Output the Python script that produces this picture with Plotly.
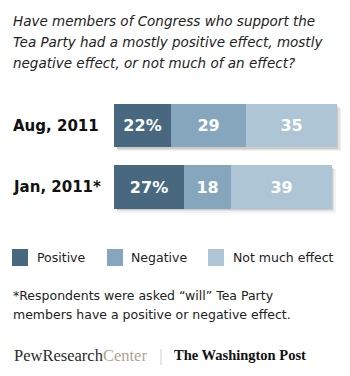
import numpy as np
import plotly.graph_objects as go

# ---------------- data ----------------
periods = ["Aug, 2011", "Jan, 2011*"]
positive = [22, 27]
negative = [29, 18]
not_much = [35, 39]
series_names = ["Positive", "Negative", "Not much effect"]
series_colors = ["#47687f", "#85a6bd", "#aec5d6"]

title_lines = [
    "Have members of Congress who support the",
    "Tea Party had a mostly positive effect, mostly",
    "negative effect, or not much of an effect?",
]
footnote_lines = [
    "*Respondents were asked \u201cwill\u201d Tea Party",
    "members have a positive or negative effect.",
]

# ---------------- layout constants ----------------
W, H = 350, 376
X0 = 114            # left edge of the bars (px)
PX_PER_PCT = 2.59   # horizontal scale
PX_PER_CAT = 61.5   # vertical spacing between bars
CAT0_Y = 125.5      # pixel centre of the first bar
BAR_W = 0.70

xmax = (W - X0) / PX_PER_PCT
y_top = -CAT0_Y / PX_PER_CAT
y_bot = y_top + H / PX_PER_CAT

series = [positive, negative, not_much]
bases = np.vstack([np.zeros(len(periods)), np.cumsum(series, axis=0)[:-1]])
totals = np.sum(series, axis=0)

fig = go.Figure()

# soft drop shadow behind each stacked bar
for dpx, alpha in [(4.0, 0.05), (2.8, 0.07), (1.5, 0.09)]:
    fig.add_bar(
        y=periods, x=totals + dpx / PX_PER_PCT - 1.0, base=1.0,
        orientation="h", width=BAR_W, offset=-BAR_W / 2 + dpx / PX_PER_CAT,
        marker=dict(color=f"rgba(0,0,0,{alpha})", line_width=0),
        hoverinfo="skip", showlegend=False,
    )

for i, (name, vals, col) in enumerate(zip(series_names, series, series_colors)):
    text = [f"{v}%" if i == 0 else str(v) for v in vals]
    fig.add_bar(
        y=periods, x=vals, base=bases[i], orientation="h", width=BAR_W,
        marker=dict(color=col, line_width=0), name=name,
        text=text, textposition="inside", insidetextanchor="middle",
        textfont=dict(family="DejaVu Sans", size=16, color="white", weight="bold"),
        constraintext="none", showlegend=False,
    )

annotations = []
shapes = []

def px(x):
    return x / W

def py(y):
    return 1 - y / H

# category labels (left-aligned, on the category axis positions)
for p in periods:
    annotations.append(dict(
        text=p, x=px(11), y=p, xref="paper", yref="y",
        xanchor="left", yanchor="middle", showarrow=False,
        font=dict(family="DejaVu Sans", size=15, color="#111", weight="bold"),
    ))

# title
for k, line in enumerate(title_lines):
    annotations.append(dict(
        text=line, x=px(11), y=py(21 + 21 * k), xref="paper", yref="paper",
        xanchor="left", yanchor="middle", showarrow=False,
        font=dict(family="DejaVu Sans", size=13.5, color="#222", style="italic"),
    ))

# legend
legend_box_x = [12, 107, 208]
legend_text_x = [35, 129, 231]
legend_y = 257.5
for name, col, bx, tx in zip(series_names, series_colors, legend_box_x, legend_text_x):
    shapes.append(dict(
        type="rect", xref="paper", yref="paper",
        x0=px(bx), x1=px(bx + 16), y0=py(legend_y - 8.5), y1=py(legend_y + 8.5),
        fillcolor=col, line_width=0,
    ))
    annotations.append(dict(
        text=name, x=px(tx), y=py(legend_y), xref="paper", yref="paper",
        xanchor="left", yanchor="middle", showarrow=False,
        font=dict(family="DejaVu Sans", size=12.5, color="#222"),
    ))

# footnote
for k, line in enumerate(footnote_lines):
    annotations.append(dict(
        text=line, x=px(11), y=py(295 + 19.5 * k), xref="paper", yref="paper",
        xanchor="left", yanchor="middle", showarrow=False,
        font=dict(family="DejaVu Sans", size=12.5, color="#222"),
    ))

# logos
annotations.append(dict(
    text="PewResearch<span style='color:#b0a48f'>Center</span>",
    x=px(12), y=py(355), xref="paper", yref="paper",
    xanchor="left", yanchor="middle", showarrow=False,
    font=dict(family="Liberation Serif", size=16.5, color="#2b2b2b"),
))
shapes.append(dict(
    type="line", xref="paper", yref="paper",
    x0=px(161), x1=px(161), y0=py(349), y1=py(365),
    line=dict(color="#d0d0d0", width=1),
))
annotations.append(dict(
    text="The Washington Post",
    x=px(172), y=py(355), xref="paper", yref="paper",
    xanchor="left", yanchor="middle", showarrow=False,
    font=dict(family="Liberation Serif", size=14.5, color="#111", weight="bold"),
))

fig.update_layout(
    width=W, height=H,
    margin=dict(l=0, r=0, t=0, b=0),
    paper_bgcolor="white", plot_bgcolor="white",
    barmode="overlay", bargap=0,
    xaxis=dict(domain=[X0 / W, 1], range=[0, xmax], visible=False, fixedrange=True),
    yaxis=dict(
        domain=[0, 1], type="category", categoryorder="array", categoryarray=periods,
        range=[y_bot, y_top], showgrid=False, zeroline=False, showline=False,
        ticks="", showticklabels=False, fixedrange=True,
    ),
    annotations=annotations, shapes=shapes,
    showlegend=False,
)

fig.write_html("out.html")
